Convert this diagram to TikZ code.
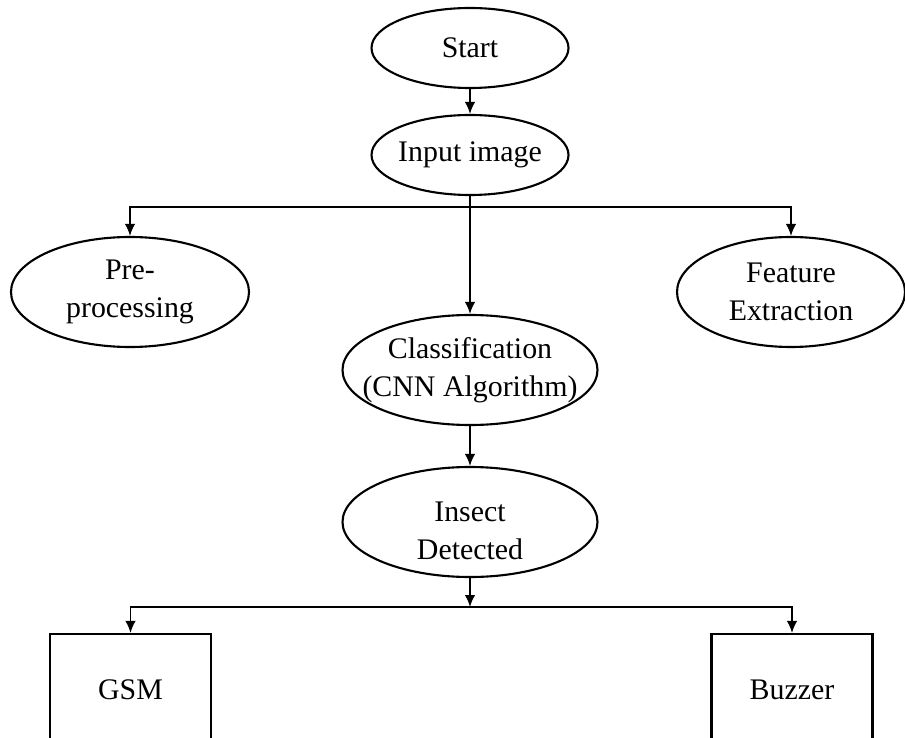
\documentclass[tikz,border=0pt]{standalone}
\usepackage{fontspec}
\setmainfont{Liberation Serif}
\usetikzlibrary{shapes.geometric, arrows.meta}
\tikzstyle{terminal}=[draw,ellipse,line width=1.2pt,minimum width=3.94cm,minimum height=1.6cm,inner xsep=-0.4cm,inner ysep=0pt,align=center]
\tikzstyle{process}=[draw,ellipse,line width=1.2pt,minimum width=4.76cm,minimum height=2.2cm,inner xsep=-0.4cm,inner ysep=0pt,align=center]
\tikzstyle{output}=[draw,rectangle,line width=1.2pt,minimum width=3.22cm,minimum height=2.24cm]
\tikzstyle{arrow}=[draw,line width=1pt,-{Latex[length=2.4mm,width=2.1mm]}]

\begin{document}
\begin{tikzpicture}[node distance=2.14cm, font=\fontsize{17}{21.5}\selectfont]
		\useasboundingbox (0,0) rectangle (18.1,-14.76);
		\clip (0,0) rectangle (18.1,-14.76);
		
		\node (start) [terminal] at (9.4,-0.96) {Start};
		\node (in1) [terminal, below of=start] {Input image};
		\node (pre) [process, below of=in1, xshift=-6.8cm, yshift=-0.6cm] {Pre-\\processing};
		\node (feat) [process, below of=in1, xshift=6.42cm, yshift=-0.6cm, minimum width=4.56cm] {Feature\\Extraction};
		\node (class) [process, below of=in1, yshift=-2.16cm, minimum width=5.1cm] {Classification\\(CNN Algorithm)};
		\node (det) [process, below of=class, yshift=-0.9cm, minimum width=5.1cm] {\rule{0pt}{0.75cm}Insect\\Detected};
		\node (split) [coordinate, below of=det, yshift=0.44cm] {};
		\node (gsm) [output, below of=split, xshift=-6.79cm, yshift=0.48cm] {GSM};
		\node (buzz) [output, below of=split, xshift=6.44cm, yshift=0.48cm] {Buzzer};
		
		
		\draw[arrow] (start) -- (in1);
		\draw[arrow] (in1) -- (class);
		\draw[arrow] (in1) -- ++(0,-1.04) -| (pre);
		\draw[arrow] (in1) -- ++(0,-1.04) -| (feat);
		\draw[arrow] (class) -- (det);
		\draw[arrow] (det) -- (split);
		\draw[arrow] (split) -| (gsm);
		\draw[arrow] (split) -| (buzz);
		
\end{tikzpicture}
\end{document}
